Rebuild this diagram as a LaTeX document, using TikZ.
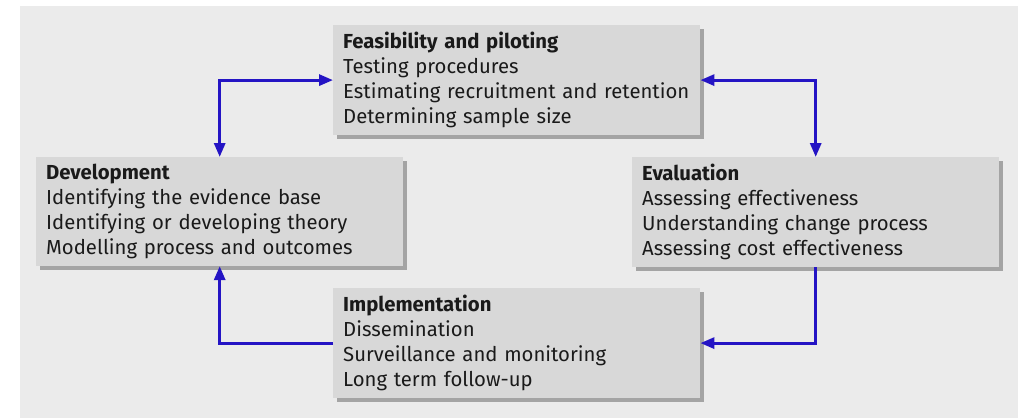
\documentclass[tikz,border=0pt]{standalone}
\usepackage{fontspec}
\setmainfont{Fira Sans}
\usetikzlibrary{arrows.meta,shadows}

\definecolor{panel}{HTML}{EBEBEB}
\definecolor{boxfill}{HTML}{D8D8D8}
\definecolor{boxshade}{HTML}{A4A4A4}
\definecolor{flow}{HTML}{2414C4}
\definecolor{ink}{HTML}{1A1A1A}

\begin{document}
\begin{tikzpicture}[x=1pt,y=-1pt,
  stage/.style={anchor=north west, fill=boxfill, text=ink,
    text width=347pt, inner xsep=10pt, inner ysep=7pt, align=left,
    font=\fontsize{20.3}{25}\selectfont,
    drop shadow={shadow xshift=4pt, shadow yshift=-4pt, opacity=1, fill=boxshade}},
  flowtip/.tip={Triangle[length=14pt,width=11pt]},
  oneway/.style={draw=flow, line width=3pt, -flowtip},
  twoway/.style={draw=flow, line width=3pt, flowtip-flowtip},
  ]
\useasboundingbox (0,0) rectangle (1030,418);
% grey panel behind the cycle
\fill[panel] (20,6) rectangle (1018,418);

% the four stages
\node[stage] (feas) at (333,25)
  {\textbf{Feasibility and piloting}\\
   Testing procedures\\
   Estimating recruitment and retention\\
   Determining sample size};
\node[stage] (dev) at (36,157)
  {\textbf{Development}\\
   Identifying the evidence base\\
   Identifying or developing theory\\
   Modelling process and outcomes};
\node[stage] (eval) at (632,157)
  {\textbf{Evaluation}\\
   Assessing effectiveness\\
   Understanding change process\\
   Assessing cost effectiveness};
\node[stage] (impl) at (333,288)
  {\textbf{Implementation}\\
   Dissemination\\
   Surveillance and monitoring\\
   Long term follow-up};

% connectors between the stages
\draw[twoway] (dev.north) |- (feas.west);
\draw[twoway] (feas.east) -| (eval.north);
\draw[oneway] (eval.south) |- (impl.east);
\draw[oneway] (impl.west) -| (dev.south);
\end{tikzpicture}
\end{document}
